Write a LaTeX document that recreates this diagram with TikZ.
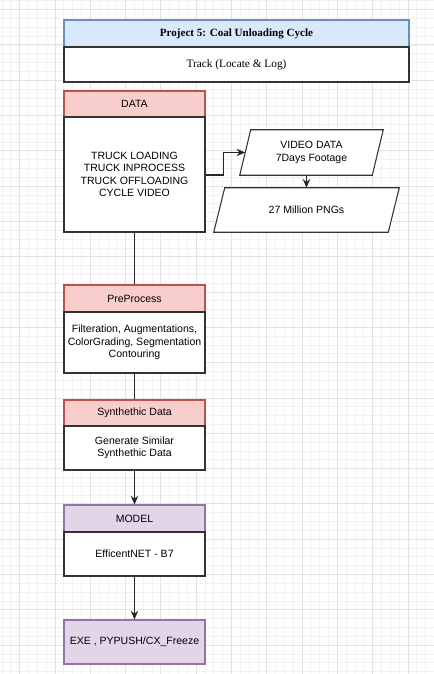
\documentclass[tikz,border=0pt]{standalone}
\usepackage{fontspec}
\setmainfont{Liberation Serif}
\newfontfamily\arial{Liberation Sans}
\usetikzlibrary{calc,arrows.meta}
\definecolor{gridmin}{HTML}{F2F2F2}
\definecolor{gridmaj}{HTML}{E3E3E3}
\definecolor{bluef}{HTML}{DAE8FC}
\definecolor{blued}{HTML}{6C8EBF}
\definecolor{redf}{HTML}{F8CECC}
\definecolor{redd}{HTML}{B85450}
\definecolor{purf}{HTML}{E1D5E7}
\definecolor{purd}{HTML}{9673A6}
\definecolor{bodyd}{HTML}{333333}
\tikzset{
  box/.style={draw=bodyd, fill=white, line width=0.8pt, inner sep=0pt, align=center,
    font=\arial\fontsize{7.9}{9.3}\selectfont},
  redhead/.style={box, draw=redd, fill=redf},
  purhead/.style={box, draw=purd, fill=purf},
  bluehead/.style={box, draw=blued, fill=bluef},
  frame/.style={inner sep=0pt},
  label/.style={inner sep=0pt, align=center, font=\arial\fontsize{7.9}{9.3}\selectfont},
  conn/.style={draw=black!85, line width=0.8pt},
  arr/.style={conn, -{Stealth[length=6.5pt,width=5.5pt]}},
}
\begin{document}
\begin{tikzpicture}[x=0.75pt,y=-0.75pt]
\useasboundingbox[fill=white] (0,0) rectangle (434,674);
% grid
\foreach \k in {-2,...,46} \draw[gridmin,line width=0.5pt] ({19.6+8.825*\k},0) -- ({19.6+8.825*\k},674);
\foreach \k in {-1,...,75} \draw[gridmin,line width=0.5pt] (0,{9.6+8.825*\k}) -- (434,{9.6+8.825*\k});
\foreach \k in {0,...,11} \draw[gridmaj,line width=0.6pt] ({19.6+35.3*\k},0) -- ({19.6+35.3*\k},674);
\foreach \k in {0,...,18} \draw[gridmaj,line width=0.6pt] (0,{9.6+35.3*\k}) -- (434,{9.6+35.3*\k});

% title
\node[bluehead, minimum width=345*0.75pt, minimum height=27*0.75pt, font=\bfseries\fontsize{8.3}{10}\selectfont] (title) at (236.5,33.5) {Project 5: Coal Unloading Cycle};
\node[box, minimum width=345*0.75pt, minimum height=35*0.75pt, font=\fontsize{8.5}{10}\selectfont] (track) at (236.5,64.5) {Track (Locate \& Log)};

% DATA
\node[redhead, minimum width=141*0.75pt, minimum height=26*0.75pt] (datah) at (134.5,104) {DATA};
\node[box, minimum width=141*0.75pt, minimum height=115*0.75pt] (datab) at (134.5,174.5) {TRUCK LOADING\\TRUCK INPROCESS\\TRUCK OFFLOADING\\CYCLE VIDEO};

% parallelograms
\node[frame, minimum width=143*0.75pt, minimum height=45*0.75pt] (video) at (311.5,152.5) {};
\draw[box] ($(video.north west)+(11,0)$) -- (video.north east) -- ($(video.south east)+(-11,0)$) -- (video.south west) -- cycle;
\node[label] (videotxt) at (video.center) {VIDEO DATA\\7Days Footage};

\node[frame, minimum width=185*0.75pt, minimum height=44*0.75pt] (png) at (306.5,210) {};
\draw[box] ($(png.north west)+(11,0)$) -- (png.north east) -- ($(png.south east)+(-11,0)$) -- (png.south west) -- cycle;
\node[label] (pngtxt) at (png.center) {27 Million PNGs};

% PreProcess
\node[redhead, minimum width=141*0.75pt, minimum height=27*0.75pt] (preh) at (134.5,298.5) {PreProcess};
\node[box, minimum width=141*0.75pt, minimum height=61*0.75pt] (preb) at (134.5,342.5) {Filteration, Augmentations,\\ColorGrading, Segmentation\\Contouring};

% Synthetic
\node[redhead, minimum width=141*0.75pt, minimum height=26*0.75pt] (synh) at (134.5,413) {Synthethic Data};
\node[box, minimum width=141*0.75pt, minimum height=44*0.75pt] (synb) at (134.5,448) {Generate Similar\\Synthethic Data};

% Model
\node[purhead, minimum width=141*0.75pt, minimum height=27*0.75pt] (modh) at (134.5,518.5) {MODEL};
\node[box, minimum width=141*0.75pt, minimum height=44*0.75pt] (modb) at (134.5,554) {EfficentNET - B7};

% EXE
\node[purhead, minimum width=141*0.75pt, minimum height=44*0.75pt] (exe) at (134.5,642) {EXE , PYPUSH/CX\_Freeze};

% connectors
\coordinate (vl) at ($(video.west)+(5.5,0)$);
\draw[arr] ($(datab.east)+(0,0.5)$) -- ++(18,0) |- (vl);
\draw[arr] (png.north |- video.south) -- (png.north);
\draw[conn] (datab.south) -- (preh.north);
\draw[conn] (preb.south) -- (synh.north);
\draw[arr] (synb.south) -- (modh.north);
\draw[arr] (modb.south) -- (exe.north);
\end{tikzpicture}
\end{document}
